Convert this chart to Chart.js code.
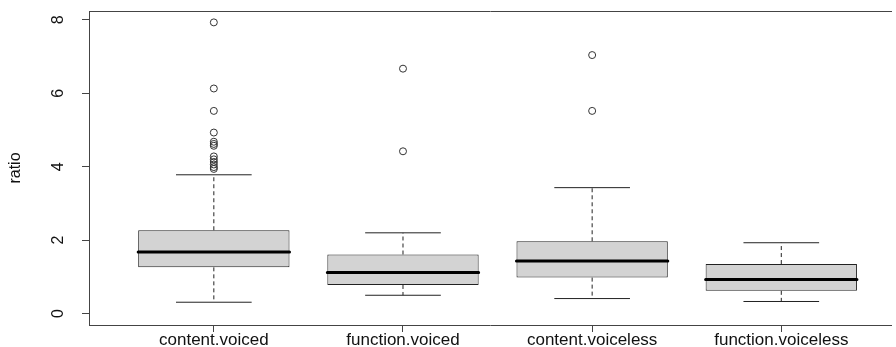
<!DOCTYPE html>
<html>
<head>
<meta charset="utf-8">
<script src="https://cdn.jsdelivr.net/npm/chart.js@4/dist/chart.umd.min.js"></script>
<style>
  html, body { margin: 0; padding: 0; background: #fff; }
  #wrap { width: 896px; height: 347px; }
</style>
</head>
<body>
<div id="wrap"><canvas id="c" width="896" height="347"></canvas></div>
<script>
// Box-plot summary of ratio by word class and voicing
const categories = ['content.voiced', 'function.voiced', 'content.voiceless', 'function.voiceless'];
const lowerWhisker = [0.31, 0.50, 0.41, 0.33];
const q1 = [1.26, 0.78, 0.98, 0.62];
const medians = [1.68, 1.12, 1.43, 0.93];
const q3 = [2.27, 1.61, 1.97, 1.35];
const upperWhisker = [3.78, 2.20, 3.43, 1.93];
const outliers = [
  [7.93, 6.13, 5.52, 4.93, 4.68, 4.62, 4.57, 4.28, 4.20, 4.13, 4.06, 3.99, 3.94],
  [6.67, 4.42],
  [7.04, 5.52],
  []
];
const yTicks = [0, 2, 4, 6, 8];

const BOX_HALF = 0.4;   // box width 0.8 per group
const CAP_HALF = 0.2;   // staple width 0.4 per group
const GAP = { x: NaN, y: null };

const pos = categories.map((_, i) => i + 1);

const boxData = pos.map((x, i) => ({ x, y: [q1[i], q3[i]] }));

const medianData = [];
const whiskerData = [];
const capData = [];
pos.forEach((x, i) => {
  medianData.push({ x: x - BOX_HALF, y: medians[i] }, { x: x + BOX_HALF, y: medians[i] }, GAP);
  whiskerData.push({ x, y: q3[i] }, { x, y: upperWhisker[i] }, GAP);
  whiskerData.push({ x, y: q1[i] }, { x, y: lowerWhisker[i] }, GAP);
  capData.push({ x: x - CAP_HALF, y: upperWhisker[i] }, { x: x + CAP_HALF, y: upperWhisker[i] }, GAP);
  capData.push({ x: x - CAP_HALF, y: lowerWhisker[i] }, { x: x + CAP_HALF, y: lowerWhisker[i] }, GAP);
});
const outlierData = [];
pos.forEach((x, i) => outliers[i].forEach(v => outlierData.push({ x, y: v })));

const FONT = { family: '"Liberation Sans", Arial, sans-serif', size: 16 };
const XFONT = { family: '"Liberation Sans", Arial, sans-serif', size: 17 };
const INK = '#111';
const AXIS = '#444';
const X_MIN = 0.34, X_MAX = 4.58;

// keep the plot frame exactly where the axes put it
const noPad = s => { s.paddingTop = 0; s.paddingBottom = 0; s.paddingLeft = 0; s.paddingRight = 0; };

new Chart(document.getElementById('c'), {
  data: {
    datasets: [
      {
        type: 'bar', data: boxData, order: 4,
        backgroundColor: '#d3d3d3', borderColor: '#222', borderWidth: 1, borderSkipped: false,
        barPercentage: 2 * BOX_HALF, categoryPercentage: 1.0
      },
      {
        type: 'line', data: whiskerData, order: 3, borderColor: '#222', borderWidth: 1,
        borderDash: [4, 3], pointRadius: 0, spanGaps: false, tension: 0
      },
      {
        type: 'line', data: capData, order: 2, borderColor: '#222', borderWidth: 1,
        pointRadius: 0, spanGaps: false, tension: 0
      },
      {
        type: 'line', data: medianData, order: 1, borderColor: '#000', borderWidth: 3,
        borderCapStyle: 'round', pointRadius: 0, spanGaps: false, tension: 0
      },
      {
        type: 'scatter', data: outlierData, order: 0,
        pointStyle: 'circle', pointRadius: 3.5, pointBorderWidth: 1,
        pointBackgroundColor: 'rgba(0,0,0,0)', pointBorderColor: '#333'
      }
    ]
  },
  options: {
    responsive: false,
    devicePixelRatio: 1,
    animation: false,
    layout: { padding: 0 },
    plugins: { legend: { display: false }, tooltip: { enabled: false } },
    scales: {
      x: {
        type: 'linear', position: 'bottom', offset: false,
        min: X_MIN, max: X_MAX,
        afterBuildTicks: s => { s.ticks = pos.map(v => ({ value: v })); },
        afterFit: s => { s.height = 22; noPad(s); },
        ticks: {
          callback: v => categories[v - 1] || '',
          font: XFONT, color: INK, padding: -2, maxRotation: 0, minRotation: 0, autoSkip: false
        },
        grid: { display: true, offset: false, drawOnChartArea: false, drawTicks: true, tickLength: 7, color: AXIS, lineWidth: 1 },
        border: { display: true, color: AXIS, width: 1 }
      },
      xTop: {
        type: 'linear', position: 'top', offset: false,
        min: X_MIN, max: X_MAX,
        afterFit: s => { s.height = 11; noPad(s); },
        ticks: { display: false },
        grid: { display: false, drawTicks: false },
        border: { display: true, color: AXIS, width: 1 }
      },
      y: {
        type: 'linear', position: 'left',
        min: -0.31, max: 8.24,
        afterBuildTicks: s => { s.ticks = yTicks.map(v => ({ value: v })); },
        afterFit: s => { s.width = 89; noPad(s); },
        ticks: {
          font: FONT, color: INK, minRotation: 90, maxRotation: 90,
          crossAlign: 'center', padding: 19
        },
        grid: { display: true, drawOnChartArea: false, drawTicks: true, tickLength: 7, color: AXIS, lineWidth: 1 },
        border: { display: true, color: AXIS, width: 1 },
        title: { display: true, text: 'ratio', font: FONT, color: INK, padding: { top: 6, bottom: 0 } }
      }
    }
  }
});
</script>
</body>
</html>
